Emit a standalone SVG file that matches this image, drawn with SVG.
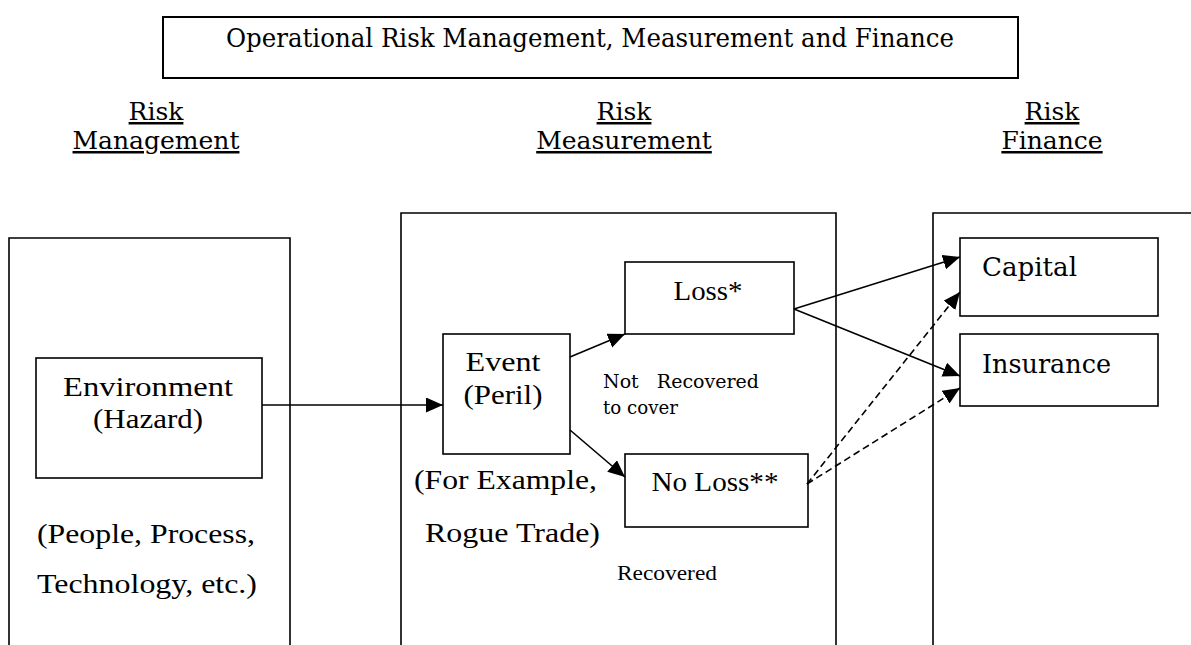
<svg xmlns="http://www.w3.org/2000/svg" width="1191" height="645" viewBox="0 0 1191 645">
  <style>
    .box { fill: #fff; stroke: #000; stroke-width: 1.6; }
    .panel { fill: none; stroke: #000; stroke-width: 1.6; }
    .t { font-family: "Liberation Serif", "Times New Roman", serif; fill: #000; }
    .d { font-family: "DejaVu Serif", "Liberation Serif", serif; fill: #000; }
    .big { font-size: 28px; }
    .head { font-size: 25px; text-decoration: underline; }
    .small { font-size: 18px; }
    .link { fill: none; stroke: #000; stroke-width: 1.6; }
    .dash { stroke-dasharray: 7 4; }
  </style>
  <defs>
    <marker id="arrow" markerUnits="userSpaceOnUse" markerWidth="18" markerHeight="16" refX="17" refY="7.5" orient="auto">
      <path d="M0,0 L17,7.5 L0,15 z" fill="#000"/>
    </marker>
  </defs>

  <rect width="1191" height="645" fill="#fff"/>

  <!-- title banner -->
  <g id="title">
    <rect x="163" y="17" width="855" height="61" fill="#fff" stroke="#000" stroke-width="2"/>
    <text class="d" x="590" y="47" font-size="26" text-anchor="middle" textLength="728" lengthAdjust="spacingAndGlyphs">Operational Risk Management, Measurement and Finance</text>
  </g>

  <!-- column headings -->
  <g id="head-management">
    <text class="d head" x="156" y="120" text-anchor="middle">Risk</text>
    <text class="d head" x="156" y="149" text-anchor="middle">Management</text>
  </g>
  <g id="head-measurement">
    <text class="d head" x="624" y="120" text-anchor="middle">Risk</text>
    <text class="d head" x="624" y="149" text-anchor="middle">Measurement</text>
  </g>
  <g id="head-finance">
    <text class="d head" x="1052" y="120" text-anchor="middle">Risk</text>
    <text class="d head" x="1052" y="149" text-anchor="middle">Finance</text>
  </g>

  <!-- column panels (open at the bottom / right edge) -->
  <g id="panel-management">
    <path class="panel" d="M9,645 V238 H290 V645"/>
    <text class="t big" x="37" y="543" textLength="218" lengthAdjust="spacingAndGlyphs">(People, Process,</text>
    <text class="t big" x="37" y="593" textLength="220" lengthAdjust="spacingAndGlyphs">Technology, etc.)</text>
  </g>
  <g id="panel-measurement">
    <path class="panel" d="M401,645 V213 H836 V645"/>
    <text class="t big" x="414" y="489" textLength="183" lengthAdjust="spacingAndGlyphs">(For Example,</text>
    <text class="t big" x="425" y="542" textLength="175" lengthAdjust="spacingAndGlyphs">Rogue Trade)</text>
    <text class="d small" x="603" y="388" xml:space="preserve" textLength="156" lengthAdjust="spacingAndGlyphs">Not   Recovered</text>
    <text class="d small" x="603" y="414" textLength="75" lengthAdjust="spacingAndGlyphs">to cover</text>
    <text class="t" x="617" y="580" font-size="21" textLength="100" lengthAdjust="spacingAndGlyphs">Recovered</text>
  </g>
  <g id="panel-finance">
    <path class="panel" d="M933,645 V213 H1191"/>
  </g>

  <!-- nodes -->
  <g id="environment">
    <rect class="box" x="36" y="358" width="226" height="120"/>
    <text class="t big" x="148" y="396" text-anchor="middle" textLength="170" lengthAdjust="spacingAndGlyphs">Environment</text>
    <text class="t big" x="148" y="428" text-anchor="middle" textLength="110" lengthAdjust="spacingAndGlyphs">(Hazard)</text>
  </g>
  <g id="event">
    <rect class="box" x="443" y="334" width="127" height="120"/>
    <text class="t big" x="503" y="371" text-anchor="middle" textLength="75" lengthAdjust="spacingAndGlyphs">Event</text>
    <text class="t big" x="503" y="404" text-anchor="middle" textLength="79" lengthAdjust="spacingAndGlyphs">(Peril)</text>
  </g>
  <g id="loss">
    <rect class="box" x="625" y="262" width="169" height="72"/>
    <text class="t big" x="708" y="300" text-anchor="middle" textLength="69" lengthAdjust="spacingAndGlyphs">Loss*</text>
  </g>
  <g id="no-loss">
    <rect class="box" x="625" y="454" width="183" height="73"/>
    <text class="t big" x="715" y="491" text-anchor="middle" textLength="127" lengthAdjust="spacingAndGlyphs">No Loss**</text>
  </g>
  <g id="capital">
    <rect class="box" x="960" y="238" width="198" height="78"/>
    <text class="d" x="982" y="276" font-size="26" textLength="95" lengthAdjust="spacingAndGlyphs">Capital</text>
  </g>
  <g id="insurance">
    <rect class="box" x="960" y="334" width="198" height="72"/>
    <text class="d" x="982" y="373" font-size="26" textLength="129" lengthAdjust="spacingAndGlyphs">Insurance</text>
  </g>

  <!-- connectors -->
  <g id="connectors">
    <line class="link" x1="262" y1="405" x2="443" y2="405" marker-end="url(#arrow)"/>
    <line class="link" x1="570" y1="357" x2="625" y2="334" marker-end="url(#arrow)"/>
    <line class="link" x1="570" y1="430" x2="625" y2="477" marker-end="url(#arrow)"/>
    <line class="link" x1="794" y1="309" x2="960" y2="257" marker-end="url(#arrow)"/>
    <line class="link" x1="794" y1="309" x2="960" y2="376" marker-end="url(#arrow)"/>
    <line class="link dash" x1="807" y1="484" x2="960" y2="292" marker-end="url(#arrow)"/>
    <line class="link dash" x1="807" y1="484" x2="960" y2="388" marker-end="url(#arrow)"/>
  </g>
</svg>
